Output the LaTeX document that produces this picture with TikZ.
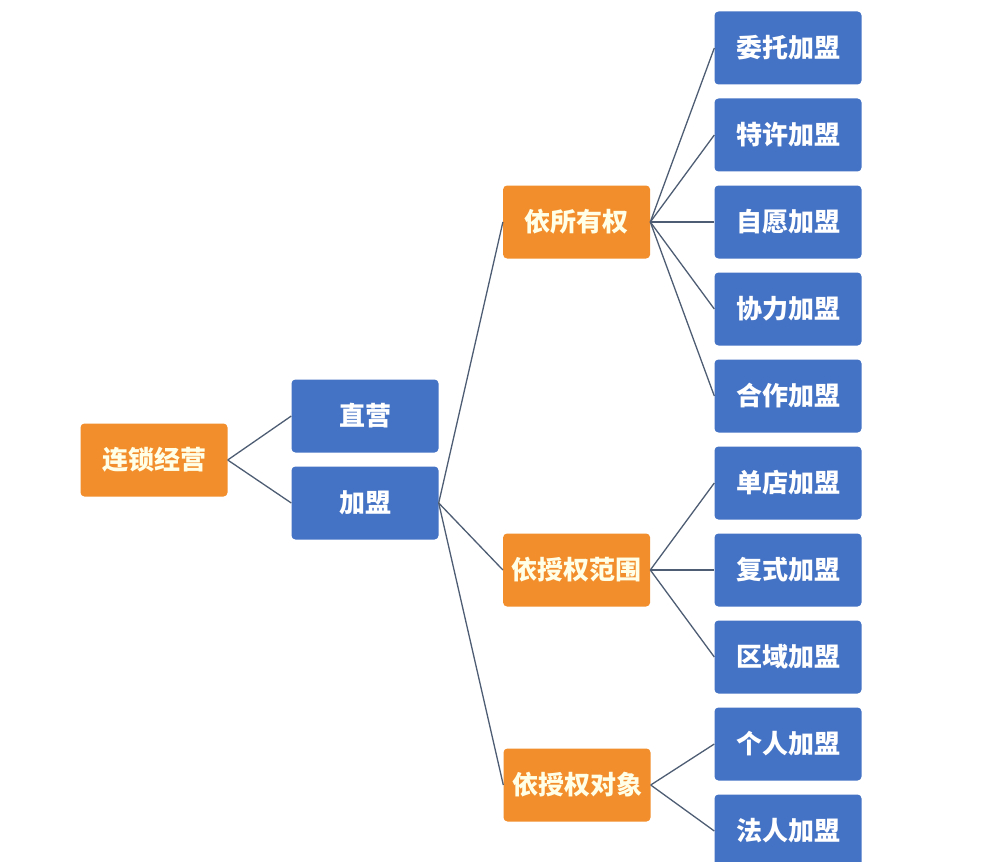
\documentclass[tikz,border=0pt]{standalone}
\usepackage{fontspec}
\newfontfamily\cjk{Noto Sans CJK SC}
\usetikzlibrary{positioning}
\definecolor{boxblue}{HTML}{4472C4}
\definecolor{boxorange}{HTML}{F28E2B}
\definecolor{linkgray}{HTML}{4E5D73}

\begin{document}
\begin{tikzpicture}[x=1pt,y=-1pt,node distance=13.6pt,
			font=\cjk\bfseries\fontsize{26}{30}\selectfont]
				\tikzset{box/.style={rectangle,rounded corners=4pt,draw=none,
					minimum width=147pt,minimum height=73pt,inner sep=0pt},
					leaf/.style={box,fill=boxblue,text=white},
					mid/.style={box,fill=boxorange,text=white!90!yellow},
					link/.style={draw=linkgray,line width=1.3pt}}
				\useasboundingbox[fill=white] (0,0) rectangle (1000,861);
				
				\node[leaf] (wt) 	at (788,48)	{委托加盟};
				\node[leaf] (tx) 	[below=of wt] {特许加盟};
				\node[leaf] (zy) 	[below=of tx] {自愿加盟};
				\node[leaf] (xl) 	[below=of zy] {协力加盟};
				\node[leaf] (hz) 	[below=of xl] {合作加盟};
				\node[leaf] (dd) 	[below=of hz] {单店加盟};
				\node[leaf] (fs) 	[below=of dd] {复式加盟};
				\node[leaf] (qy) 	[below=of fs] {区域加盟};
				\node[leaf] (gr) 	[below=of qy] {个人加盟};
				\node[leaf] (fr) 	[below=of gr] {法人加盟};
				
				\node[mid] (own) 	[left=64pt of zy] {依所有权};
				\node[mid] (range) 	[left=64pt of fs] {依授权范围};
				\node[mid] (target) at (577,785) {依授权对象};
				
				\node[leaf] (jm) 	at (365,503) {加盟};
				\node[leaf] (zyy) 	at (365,416) {直营};
				
				\node[mid] (root) 	at (154,460) {连锁经营};
				
				\path[link] (root.east) edge (zyy.west)
						(root.east) edge (jm.west)
						(jm.east) edge (own.west)
						(jm.east) edge (range.west)
						(jm.east) edge (target.west)
						(own.east) edge (wt.west)
						(own.east) edge (tx.west)
						(own.east) edge (zy.west)
						(own.east) edge (xl.west)
						(own.east) edge (hz.west)
						(range.east) edge (dd.west)
						(range.east) edge (fs.west)
						(range.east) edge (qy.west)
						(target.east) edge (gr.west)
						(target.east) edge (fr.west);
			\end{tikzpicture}
\end{document}
